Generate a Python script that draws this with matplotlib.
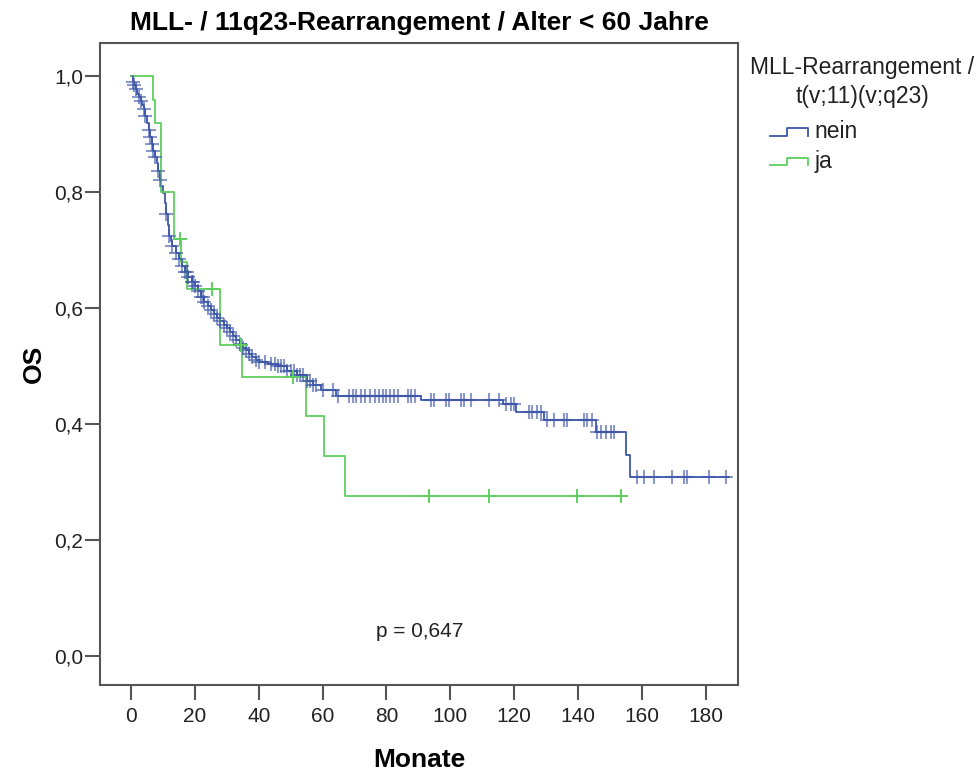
import numpy as np
import matplotlib
matplotlib.use("Agg")
import matplotlib.pyplot as plt
from matplotlib.lines import Line2D
from matplotlib.legend_handler import HandlerBase

plt.rcParams['font.family'] = ['Liberation Sans', 'DejaVu Sans']

# Kaplan-Meier Stufen, "nein"
t_nein = [0, 0.5, 1, 1.5, 2, 2.5, 3, 3.5, 4, 4.5, 5, 5.5, 6, 6.5, 7, 7.5, 8, 8.5, 9,
          9.5, 10, 10.5, 11, 11.5, 12, 12.5, 13, 14, 15, 16, 17, 18, 19,
          20, 21, 22, 23, 24, 25, 26, 27, 28, 29, 30, 31, 32, 33, 34, 35, 36, 37,
          38, 39, 40, 43, 46, 49, 52, 55, 57, 59.6,
          64.3, 90.8, 116.4, 120.5, 129.4, 145.5, 154.9, 156.4, 187.2]
s_nein = [1.0, 0.99, 0.985, 0.978, 0.97, 0.964, 0.958, 0.951, 0.944, 0.932, 0.92,
          0.908, 0.895, 0.884, 0.872, 0.861, 0.85, 0.836, 0.822, 0.81,
          0.798, 0.781, 0.763, 0.744, 0.725, 0.716, 0.707, 0.695, 0.685, 0.673,
          0.663, 0.653, 0.645,
          0.638, 0.629, 0.62, 0.611, 0.603, 0.596, 0.59, 0.583, 0.577, 0.571,
          0.565, 0.558, 0.552, 0.545, 0.538, 0.532, 0.527, 0.521, 0.515, 0.511,
          0.507, 0.503, 0.5, 0.492, 0.485, 0.475, 0.467, 0.458,
          0.448, 0.442, 0.434, 0.421, 0.407, 0.386, 0.347, 0.308, 0.308]
cens_nein = [0.5, 1, 1.5, 2.5, 3, 4, 4.5, 5.5, 6, 6.5, 7, 7.5, 8.5, 9, 11, 12, 13,
             14, 15, 16, 17, 17.5, 18, 19, 19.5, 20, 21, 22, 22.5, 23, 24, 25, 26,
             27, 28, 29, 30, 31, 32, 33, 34, 35, 36, 37, 38, 39, 40, 42, 44, 45,
             46, 47, 48, 49, 50, 51, 52, 53, 54, 55, 56, 57, 58,
             60.1, 63.2, 64.8, 68.4, 69.5, 70.5, 72.1, 73.4, 74.7, 76.3, 77.8,
             78.9, 80, 81, 82.5, 83.5, 86.7, 87.7, 88.8, 94, 95, 98.7, 99.7,
             103.3, 104.4, 106.5, 112.2, 115.3, 117.4, 119, 120, 124.7, 125.7,
             127.3, 128.3, 130.4, 132.5, 135.6, 136.7, 141.9, 142.9, 144.5,
             146, 147.1, 148.7, 150.2, 151.3, 158.5, 160.6, 163.8, 169.5,
             173.1, 174.2, 180.9, 186.4]

# "ja"
t_ja = [0, 6.8, 7.5, 9.4, 13.4, 15.8, 17.5, 27.8, 34.8, 54.9, 60.4, 67.1, 153.4]
s_ja = [1.0, 0.96, 0.92, 0.80, 0.72, 0.68, 0.633, 0.536, 0.481, 0.413, 0.344,
        0.276, 0.276]
cens_ja = [15.3, 25.5, 34.5, 50.6, 93.4, 112.0, 139.7, 153.4]

blue = '#3d56a8'
green = '#5ecf5e'
frame_col = '#555555'


def surv_at(times, surv, tc):
    idx = np.searchsorted(times, tc, side='right') - 1
    return np.asarray(surv)[idx]


class StepHandler(HandlerBase):
    def create_artists(self, legend, orig_handle, xdescent, ydescent,
                       width, height, fontsize, trans):
        x0, x1 = -xdescent, -xdescent + width
        xm = x0 + 0.44 * width
        ylo, yhi = -ydescent + 0.15 * height, -ydescent + 0.6 * height
        ln = Line2D([x0, xm, xm, x1, x1], [ylo, ylo, yhi, yhi, ylo],
                    color=orig_handle.get_color(), lw=1.3, transform=trans)
        return [ln]


fig = plt.figure(figsize=(9.79, 7.71), dpi=100)
ax = fig.add_axes([100 / 979, 86 / 771, 638 / 979, 642 / 771])

l1, = ax.step(t_nein, s_nein, where='post', color=blue, lw=1.3)
l2, = ax.step(t_ja, s_ja, where='post', color=green, lw=1.3)
ax.plot(cens_nein, surv_at(t_nein, s_nein, cens_nein), '+', color=blue,
        ms=10, mew=1.5, alpha=0.6)
ax.plot(cens_ja, surv_at(t_ja, s_ja, cens_ja), '+', color=green, ms=10, mew=1.4)

ax.set_xlim(-9.7, 190.1)
ax.set_ylim(-0.0506, 1.0577)
ax.set_xticks(np.arange(0, 181, 20))
ax.set_yticks(np.arange(0, 1.01, 0.2))
ax.set_yticklabels([f'{v:.1f}'.replace('.', ',') for v in np.arange(0, 1.01, 0.2)])
for sp in ax.spines.values():
    sp.set_color(frame_col)
    sp.set_linewidth(1.5)
ax.tick_params(direction='out', length=10.5, width=1.5, color=frame_col,
               labelsize=15, labelcolor='#222222')
ax.tick_params(axis='y', pad=1.5)
ax.tick_params(axis='x', pad=5)

ax.set_title('MLL- / 11q23-Rearrangement / Alter < 60 Jahre', fontsize=19,
             fontweight='bold', pad=9)
ax.set_xlabel('Monate', fontsize=19, fontweight='bold', labelpad=16)
ax.set_ylabel('OS', fontsize=19, fontweight='bold', labelpad=6)
ax.text(90.5, 0.041, 'p = 0,647', fontsize=15, ha='center', va='center',
        color='#222222')

fig.text(862 / 979, 1 - 82 / 771, 'MLL-Rearrangement /\nt(v;11)(v;q23)',
         fontsize=16.5, ha='center', va='center', multialignment='center',
         linespacing=1.3, color='#222222')
leg = fig.legend([l1, l2], ['nein', 'ja'], loc='upper left',
                 bbox_to_anchor=(770 / 979, 1 - 120 / 771), frameon=False,
                 borderpad=0, borderaxespad=0,
                 fontsize=16.5, handlelength=1.66, handletextpad=0.3,
                 labelspacing=0.3, labelcolor='#222222',
                 handler_map={Line2D: StepHandler()})

fig.savefig('out.png', dpi=100)
